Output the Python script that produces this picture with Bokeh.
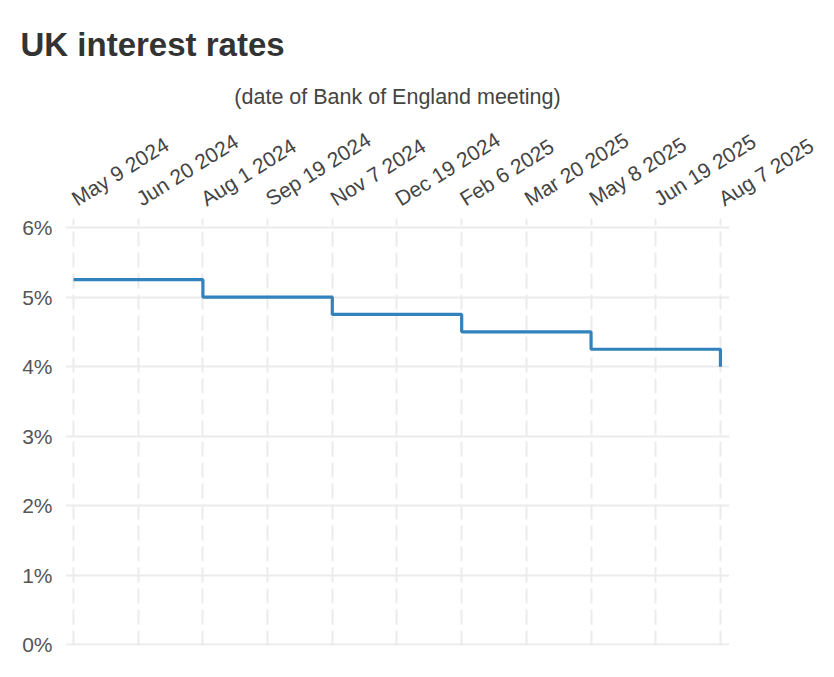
import math
from bokeh.plotting import figure
from bokeh.models import FixedTicker, Range1d, PrintfTickFormatter
from bokeh.embed import file_html
from bokeh.resources import INLINE

dates = ["May 9 2024", "Jun 20 2024", "Aug 1 2024", "Sep 19 2024", "Nov 7 2024",
         "Dec 19 2024", "Feb 6 2025", "Mar 20 2025", "May 8 2025", "Jun 19 2025",
         "Aug 7 2025"]
rates = [5.25, 5.25, 5.0, 5.0, 4.75, 4.75, 4.5, 4.5, 4.25, 4.25, 4.0]
y_ticks = [0, 1, 2, 3, 4, 5, 6]

idx = list(range(len(dates)))
FONT = "Liberation Sans"

p = figure(width=818, height=661, output_backend="svg", toolbar_location=None,
           x_axis_location="above",
           x_range=Range1d(-0.124, len(dates) - 1 + 0.14),
           y_range=Range1d(-0.01, 6.13),
           min_border_left=65, min_border_right=89, min_border_top=218,
           min_border_bottom=16)

p.outline_line_color = None
p.background_fill_color = "white"
p.border_fill_color = "white"

p.title.text = "UK interest rates"
p.title.text_font = FONT
p.title.text_font_size = "33px"
p.title.text_font_style = "bold"
p.title.text_color = "#333333"
p.title.align = "left"
p.title.vertical_align = "top"
p.title.offset = -45
p.title.standoff = 33

p.step(x=idx, y=rates, mode="after", line_color="#3182bd", line_width=3.2)

xa = p.xaxis[0]
xa.ticker = FixedTicker(ticks=idx)
xa.major_label_overrides = {i: d for i, d in zip(idx, dates)}
xa.major_label_orientation = math.radians(32)
xa.major_label_text_font = FONT
xa.major_label_text_font_size = "21px"
xa.major_label_text_color = "#444444"
xa.axis_label = "(date of Bank of England meeting)"
xa.axis_label_text_font = FONT
xa.axis_label_text_font_size = "21.5px"
xa.axis_label_text_font_style = "normal"
xa.axis_label_text_color = "#444444"
xa.axis_label_standoff = 6
xa.axis_line_color = None
xa.major_tick_line_color = None
xa.minor_tick_line_color = None
xa.major_label_standoff = 12

ya = p.yaxis[0]
ya.ticker = FixedTicker(ticks=y_ticks)
ya.formatter = PrintfTickFormatter(format="%d%%")
ya.major_label_text_font = FONT
ya.major_label_text_font_size = "21px"
ya.major_label_text_color = "#555555"
ya.axis_line_color = None
ya.major_tick_line_color = None
ya.minor_tick_line_color = None
ya.major_label_standoff = 7

p.xgrid.ticker = FixedTicker(ticks=idx)
p.xgrid.grid_line_color = "#ebebeb"
p.xgrid.grid_line_width = 2
p.xgrid.grid_line_dash = "15 6"
p.ygrid.ticker = FixedTicker(ticks=y_ticks)
p.ygrid.grid_line_color = "#ebebeb"
p.ygrid.grid_line_width = 2

open("out.html", "w").write(file_html(p, INLINE))
